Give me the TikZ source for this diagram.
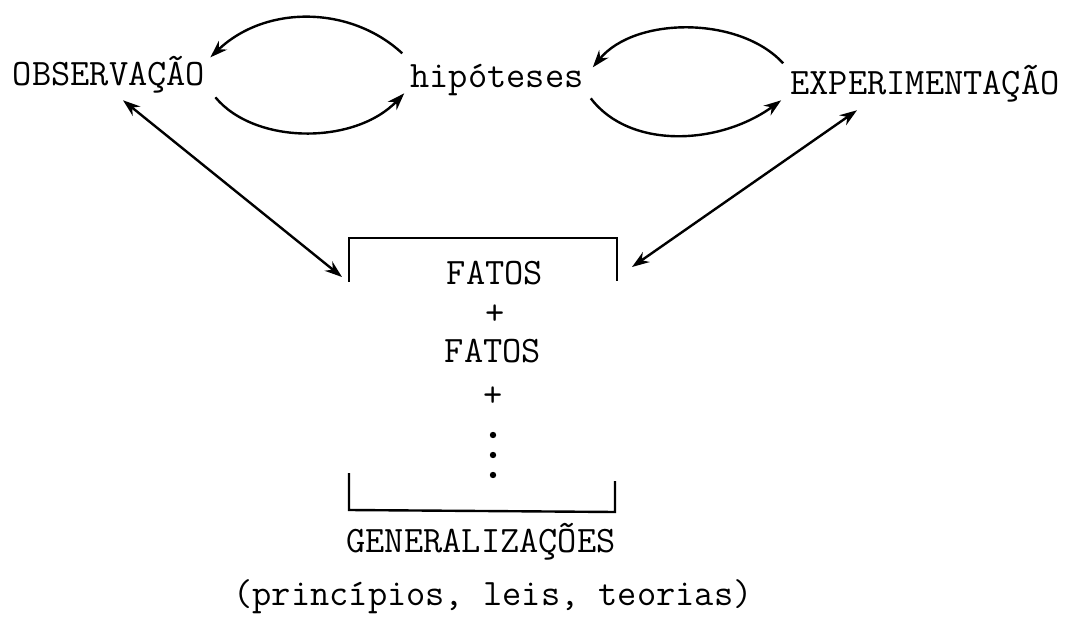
\documentclass[tikz,border=0pt]{standalone}
\usepackage{fontspec}
\setmonofont{Latin Modern Mono}
\usetikzlibrary{arrows.meta}

\begin{document}
\begin{tikzpicture}[x=0.75pt, y=-0.75pt,
	word/.style={font=\ttfamily\fontsize{28}{34}\selectfont, inner sep=0pt, text height=16pt, text depth=0pt, anchor=base},
	sign/.style={font=\ttfamily\fontsize{28}{34}\selectfont, inner sep=0pt},
	link/.style={line width=1.8pt, -{Stealth[length=13pt, width=9pt]}},
	both/.style={line width=1.8pt, {Stealth[length=13pt, width=9pt]}-{Stealth[length=13pt, width=9pt]}}]
	\useasboundingbox (0,0) rectangle (1067,620);
	% Top row
	\node [word] (obs) at (109,86) {OBSERVAÇÃO};
	\node [word] (hyp) at (497,88) {hipóteses};
	\node [word] (exp) at (925,95) {EXPERIMENTAÇÃO};
	% Loops
	\draw [link] ([shift={(-8,-24)}]hyp.west) .. controls (350,5) and (265,5) .. ([shift={(5,-18)}]obs.east);
	\draw [link] ([shift={(10,22)}]obs.east) .. controls (255,145) and (355,145) .. ([shift={(-6,16)}]hyp.west);
	\draw [link] ([shift={(-7,-21)}]exp.west) .. controls (740,16) and (635,16) .. ([shift={(9,-10)}]hyp.east);
	\draw [link] ([shift={(7,21)}]hyp.east) .. controls (630,150) and (720,145) .. ([shift={(-9,16)}]exp.west);
	% Bracket
	\coordinate (tl) at (349,238);
	\coordinate (tr) at (617,238);
	\draw [line width=1.8pt] (349,282) -- (tl) -- (tr) -- (617,281);
	\draw [line width=1.8pt] (349,473) -- (349,510) -- (615,512) -- (615,481);
	\coordinate (lin) at (342,277);
	\coordinate (rin) at (632,267);
	\draw [both] ([shift={(14,14)}]obs.south) -- (lin);
	\draw [both] ([shift={(-68,15)}]exp.south) -- (rin);
	% Sum
	\node [word] (f1) at (495,285) {FATOS};
	\node [sign] (p1) at (495,315) {+};
	\node [word] (f2) at (493,362) {FATOS};
	\node [sign] (p2) at (493,397) {+};
	\foreach \y in {435, 455, 475} {
		\fill (493,\y) circle (2.4pt);
	}
	% Result
	\node [word] (gen) at (481,552) {GENERALIZAÇÕES};
	\node [word] (kinds) at (493,605) {(princípios, leis, teorias)};
\end{tikzpicture}
\end{document}
